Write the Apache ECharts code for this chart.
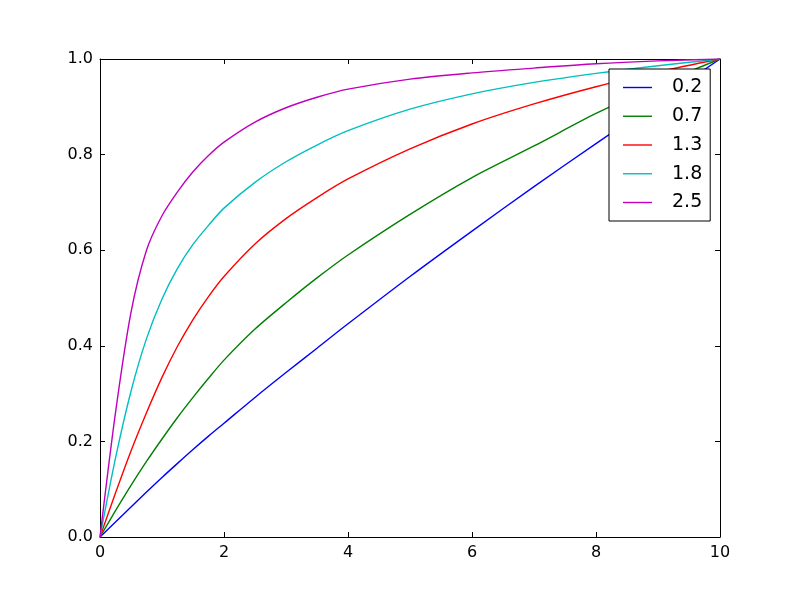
<!DOCTYPE html>
<html>
<head>
<meta charset="utf-8">
<script src="https://cdn.jsdelivr.net/npm/echarts@6/dist/echarts.min.js"></script>
<style>
html,body{margin:0;padding:0;background:#fff;}
#chart{width:800px;height:597px;}
</style>
</head>
<body>
<div id="chart"></div>
<script>
// Data
const xValues = [0, 0.25, 0.5, 0.75, 1, 1.25, 1.5, 1.75, 2, 2.5, 3, 3.5, 4, 5, 6, 7, 8, 9, 10];
const seriesNames = ['0.2', '0.7', '1.3', '1.8', '2.5'];
const y02 = [0, 0.0315, 0.063, 0.094, 0.1245, 0.154, 0.183, 0.211, 0.238, 0.292, 0.344, 0.395, 0.446, 0.545, 0.64, 0.733, 0.823, 0.912, 1];
const y07 = [0, 0.055, 0.108, 0.158, 0.205, 0.25, 0.292, 0.332, 0.37, 0.435, 0.49, 0.542, 0.59, 0.675, 0.752, 0.818, 0.886, 0.946, 1];
const y13 = [0, 0.092, 0.18, 0.26, 0.334, 0.399, 0.455, 0.503, 0.545, 0.613, 0.666, 0.71, 0.749, 0.812, 0.864, 0.906, 0.942, 0.973, 1];
const y18 = [0, 0.165, 0.305, 0.415, 0.498, 0.562, 0.612, 0.652, 0.688, 0.742, 0.785, 0.82, 0.85, 0.895, 0.927, 0.951, 0.97, 0.986, 1];
const y25 = [0, 0.26, 0.47, 0.6, 0.672, 0.722, 0.764, 0.798, 0.826, 0.868, 0.898, 0.92, 0.937, 0.958, 0.971, 0.981, 0.99, 0.996, 1];
const xTicks = [0, 2, 4, 6, 8, 10];
const yTicks = [0, 0.2, 0.4, 0.6, 0.8, 1.0];
const colors = ['#0000ff', '#008000', '#ff0000', '#00bfbf', '#bf00bf'];

const allY = [y02, y07, y13, y18, y25];
const chart = echarts.init(document.getElementById('chart'), null, {renderer: 'canvas'});
const font = 'DejaVu Sans';
const axisCommon = {
  min: 0,
  splitLine: {show: false},
  axisLine: {show: true, onZero: false, lineStyle: {color: '#000', width: 1}},
  axisTick: {show: true, inside: true, length: 5, lineStyle: {color: '#000', width: 1}}
};
const option = {
  animation: false,
  backgroundColor: '#fff',
  textStyle: {fontFamily: font},
  grid: {left: 100, right: 80, top: 59, bottom: 60, containLabel: false},
  legend: {
    data: seriesNames,
    orient: 'vertical',
    left: 609,
    top: 69,
    backgroundColor: '#fff',
    borderColor: '#000',
    borderWidth: 1,
    borderRadius: 0,
    padding: [9, 8, 9, 14],
    icon: 'rect',
    itemWidth: 29,
    itemHeight: 1.4,
    itemGap: 9.75,
    textStyle: {fontFamily: font, fontSize: 19, lineHeight: 19, color: '#000', padding: [0, 0, 0, 15]}
  },
  xAxis: [
    Object.assign({}, axisCommon, {
      type: 'value', position: 'bottom', max: 10, interval: 2,
      axisLabel: {color: '#000', fontSize: 16, fontFamily: font, margin: 8,
        formatter: v => xTicks.includes(v) ? String(v) : ''}
    }),
    Object.assign({}, axisCommon, {
      type: 'value', position: 'top', max: 10, interval: 2,
      axisLabel: {show: false}
    })
  ],
  yAxis: [
    Object.assign({}, axisCommon, {
      type: 'value', position: 'left', max: 1, interval: 0.2,
      axisLabel: {color: '#000', fontSize: 16, fontFamily: font, margin: 7,
        formatter: v => v.toFixed(1)}
    }),
    Object.assign({}, axisCommon, {
      type: 'value', position: 'right', max: 1, interval: 0.2,
      axisLabel: {show: false}
    })
  ],
  series: seriesNames.map((name, i) => ({
    name: name,
    type: 'line',
    xAxisIndex: 0,
    yAxisIndex: 0,
    symbol: 'none',
    smooth: 0.3,
    color: colors[i],
    lineStyle: {color: colors[i], width: 1.4},
    data: xValues.map((x, j) => [x, allY[i][j]])
  }))
};
chart.setOption(option);
</script>
</body>
</html>
